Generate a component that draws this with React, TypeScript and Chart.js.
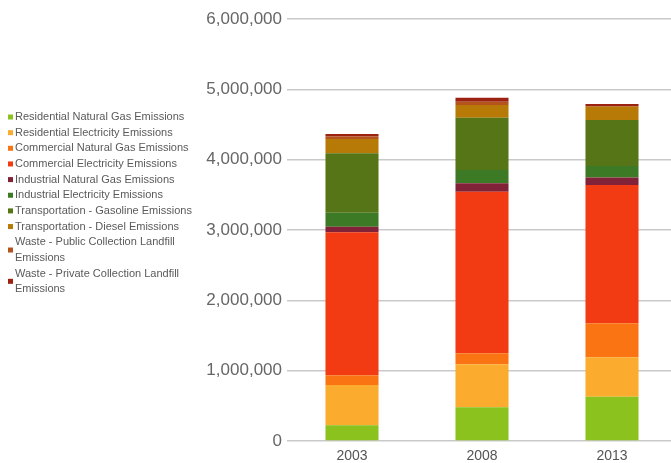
import { useEffect, useRef } from "react";
import { Chart, registerables } from "chart.js";

Chart.register(...registerables);

// Emissions by year, stacked from the bottom up
const years = ["2003", "2008", "2013"];

const seriesNames = [
  "Residential Natural Gas Emissions",
  "Residential Electricity Emissions",
  "Commercial Natural Gas Emissions",
  "Commercial Electricity Emissions",
  "Industrial Natural Gas Emissions",
  "Industrial Electricity Emissions",
  "Transportation - Gasoline Emissions",
  "Transportation - Diesel Emissions",
  "Waste - Public Collection Landfill Emissions",
  "Waste - Private Collection Landfill Emissions",
];

const residentialNaturalGas = [223000, 479000, 630000];
const residentialElectricity = [573000, 611000, 560000];
const commercialNaturalGas = [138000, 156000, 483000];
const commercialElectricity = [2033000, 2298000, 1966000];
const industrialNaturalGas = [80000, 119000, 109000];
const industrialElectricity = [199000, 189000, 161000];
const transportationGasoline = [845000, 744000, 654000];
const transportationDiesel = [203000, 181000, 189000];
const wastePublicLandfill = [36000, 47000, 10000];
const wastePrivateLandfill = [35000, 57000, 28000];

const seriesValues = [
  residentialNaturalGas,
  residentialElectricity,
  commercialNaturalGas,
  commercialElectricity,
  industrialNaturalGas,
  industrialElectricity,
  transportationGasoline,
  transportationDiesel,
  wastePublicLandfill,
  wastePrivateLandfill,
];

const seriesColors = [
  "#8bc21e",
  "#fbab2e",
  "#fa7414",
  "#f23a13",
  "#822239",
  "#3d7a26",
  "#557516",
  "#b87a06",
  "#b4531b",
  "#9b2211",
];

const yTicks = [0, 1000000, 2000000, 3000000, 4000000, 5000000, 6000000];

const FONT = "'Liberation Sans', Arial, Helvetica, sans-serif";

// Legend drawn in the left margin, wrapping long labels onto two lines
const sideLegend = {
  id: "sideLegend",
  afterDraw(chart: any) {
    const ctx = chart.ctx as CanvasRenderingContext2D;
    ctx.save();
    ctx.font = `11px ${FONT}`;
    ctx.textBaseline = "middle";
    ctx.textAlign = "left";
    const maxWidth = 185;
    const step = 15.65;
    let y = 117;
    chart.data.datasets.forEach((ds: any) => {
      const words = String(ds.label).split(" ");
      const lines: string[] = [];
      let cur = "";
      words.forEach((w) => {
        const test = cur ? cur + " " + w : w;
        if (ctx.measureText(test).width > maxWidth && cur) {
          lines.push(cur);
          cur = w;
        } else {
          cur = test;
        }
      });
      if (cur) lines.push(cur);
      const markerY = y + ((lines.length - 1) * step) / 2;
      ctx.fillStyle = ds.backgroundColor;
      ctx.fillRect(8, markerY - 2.5, 5, 5);
      ctx.fillStyle = "#5a5a5a";
      lines.forEach((ln, i) => {
        ctx.fillText(ln, 15, y + i * step);
      });
      y += lines.length * step;
    });
    ctx.restore();
  },
};

export default function App() {
  const canvasRef = useRef<HTMLCanvasElement | null>(null);

  useEffect(() => {
    if (!canvasRef.current) return;
    const chart = new Chart(canvasRef.current, {
      type: "bar",
      data: {
        labels: years,
        datasets: seriesNames.map((name, i) => ({
          label: name,
          data: seriesValues[i],
          backgroundColor: seriesColors[i],
          borderWidth: 0,
          barPercentage: 0.408,
          categoryPercentage: 1,
        })),
      },
      options: {
        responsive: false,
        animation: false,
        layout: { padding: { top: 19, left: 0, right: 0, bottom: 0 } },
        plugins: {
          legend: { display: false },
          tooltip: { enabled: false },
        },
        scales: {
          x: {
            stacked: true,
            grid: { display: false, drawTicks: false },
            border: { display: false },
            ticks: {
              color: "#555555",
              font: { family: FONT, size: 14 },
              padding: 7,
            },
            afterFit(scale: any) {
              scale.height = 22;
            },
          },
          y: {
            stacked: true,
            min: 0,
            max: 6000000,
            afterBuildTicks(scale: any) {
              scale.ticks = yTicks.map((v) => ({ value: v }));
            },
            grid: {
              color: "#c9c9c9",
              lineWidth: 1.5,
              drawTicks: false,
            },
            border: { display: false },
            ticks: {
              color: "#666666",
              font: { family: FONT, size: 17 },
              padding: 5,
              callback: (v: any) => Number(v).toLocaleString("en-US"),
            },
            afterFit(scale: any) {
              scale.width = 287;
            },
          },
        },
      },
      plugins: [sideLegend],
    });
    return () => chart.destroy();
  }, []);

  return (
    <div
      style={{
        position: "fixed",
        left: 0,
        top: 0,
        width: 671,
        height: 463,
        overflow: "hidden",
        background: "#ffffff",
      }}
    >
      <canvas ref={canvasRef} width={677} height={463} />
    </div>
  );
}
